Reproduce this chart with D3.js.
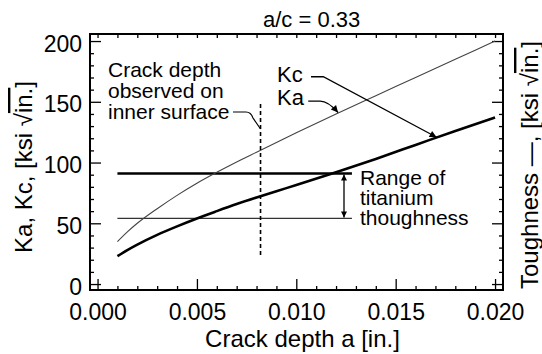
<!DOCTYPE html>
<html><head><meta charset="utf-8">
<script src="https://cdn.jsdelivr.net/npm/d3@7"></script>
<style>
html,body{margin:0;padding:0;background:#fff;}
svg text{font-family:"Liberation Sans",Arial,sans-serif;fill:#000;}
</style></head>
<body><svg id="c" width="542" height="354"></svg>
<script>
// ---- data ----
const crackDepth = [0.001,0.0015,0.002,0.003,0.004,0.005,0.006,0.007,0.008,0.009,0.010,0.012,0.014,0.016,0.018,0.020];
const kaValues   = [35,43,50,62,73,83,92,100.5,108.5,116.5,124.5,140,155,170,185,200];
const kcValues   = [23,28,32.5,40.5,47.5,54,60,65.8,71.2,76.4,81.5,92,103,114.5,126,137];
const toughnessRange = [54, 91];           // titanium toughness (low, high)
const toughnessSpan  = [0.001, 0.0128];    // crack-depth extent of the toughness lines
const observedDepth  = 0.0082;             // crack depth observed on inner surface
const observedSpan   = [24, 149];
const xTicks = [0,0.005,0.010,0.015,0.020];
const xTickLabels = ["0.000","0.005","0.010","0.015","0.020"];
const yTicks = [0,50,100,150,200];
const yTickLabels = ["0","50","100","150","200"];
const titleText = "a/c = 0.33";

// ---- layout ----
const svg = d3.select("#c");
const L=90,R=503,T=34,B=290;
const x = d3.scaleLinear().domain([-0.00038,0.0204]).range([L,R]);
const y = d3.scaleLinear().domain([-4.9,205.8]).range([B,T]);

const defs = svg.append("defs");
function marker(id, w, h){
  defs.append("marker").attr("id",id).attr("viewBox","0 0 10 10").attr("refX",10).attr("refY",5)
    .attr("markerWidth",w).attr("markerHeight",h).attr("markerUnits","userSpaceOnUse").attr("orient","auto-start-reverse")
    .append("path").attr("d","M0,0 L10,5 L0,10 Z").attr("fill","#000");
}
marker("arr",11,7);
marker("arrS",9,6);

// minor ticks
const xMinor = d3.range(0,21).map(i=>i*0.001).filter(v=>Math.round(v*1000)%5!==0);
const yMinor = d3.range(0,21).map(i=>i*10).filter(v=>v%50!==0);

function styleAxis(g){ g.select(".domain").remove(); g.selectAll("line").attr("stroke","#000").attr("stroke-width",1.3); }

// bottom
svg.append("g").attr("transform",`translate(0,${B})`).call(d3.axisBottom(x).tickValues(xMinor).tickSize(-4).tickFormat("")).call(styleAxis);
const bx = svg.append("g").attr("transform",`translate(0,${B})`)
  .call(d3.axisBottom(x).tickValues(xTicks).tickSize(-11).tickFormat((d,i)=>xTickLabels[i])).call(styleAxis);
bx.selectAll("text").attr("y",30).attr("dy",0).style("font-size","23px");
// top
svg.append("g").attr("transform",`translate(0,${T})`).call(d3.axisTop(x).tickValues(xMinor.concat(xTicks)).tickSize(-4).tickFormat("")).call(styleAxis);
// left
svg.append("g").attr("transform",`translate(${L},0)`).call(d3.axisLeft(y).tickValues(yMinor).tickSize(-4).tickFormat("")).call(styleAxis);
const ly = svg.append("g").attr("transform",`translate(${L},0)`)
  .call(d3.axisLeft(y).tickValues(yTicks).tickSize(-11).tickFormat((d,i)=>yTickLabels[i])).call(styleAxis);
ly.selectAll("text").attr("x",-8).attr("dy",0).attr("y",10).style("font-size","23px");
// right
svg.append("g").attr("transform",`translate(${R},0)`).call(d3.axisRight(y).tickValues(yMinor).tickSize(-4).tickFormat("")).call(styleAxis);
svg.append("g").attr("transform",`translate(${R},0)`).call(d3.axisRight(y).tickValues(yTicks).tickSize(-11).tickFormat("")).call(styleAxis);

// frame
svg.append("rect").attr("x",L).attr("y",T).attr("width",R-L).attr("height",B-T)
  .attr("fill","none").attr("stroke","#000").attr("stroke-width",2);

// toughness lines
svg.append("line").attr("x1",x(toughnessSpan[0])).attr("x2",x(toughnessSpan[1]))
  .attr("y1",y(toughnessRange[1])).attr("y2",y(toughnessRange[1])).attr("stroke","#000").attr("stroke-width",2.4);
svg.append("line").attr("x1",x(toughnessSpan[0])).attr("x2",x(toughnessSpan[1]))
  .attr("y1",y(toughnessRange[0])).attr("y2",y(toughnessRange[0])).attr("stroke","#333").attr("stroke-width",1.2);

// curves
const line = (vals)=>d3.line().x((d,i)=>x(crackDepth[i])).y(d=>y(d)).curve(d3.curveMonotoneX)(vals);
svg.append("path").attr("d",line(kaValues)).attr("fill","none").attr("stroke","#444").attr("stroke-width",1.1);
svg.append("path").attr("d",line(kcValues)).attr("fill","none").attr("stroke","#000").attr("stroke-width",2.6);

// observed depth dashed
svg.append("line").attr("x1",x(observedDepth)).attr("x2",x(observedDepth))
  .attr("y1",y(observedSpan[0])).attr("y2",y(observedSpan[1]))
  .attr("stroke","#000").attr("stroke-width",1.6).attr("stroke-dasharray","4,3");

// range double arrow
const ax = x(0.0124);
svg.append("line").attr("x1",ax).attr("x2",ax).attr("y1",y(toughnessRange[1])+1).attr("y2",y(toughnessRange[0])-1)
  .attr("stroke","#000").attr("stroke-width",1.3).attr("marker-start","url(#arrS)").attr("marker-end","url(#arrS)");

// annotation text helpers
function txt(xp,yp,s,size){ return svg.append("text").attr("x",xp).attr("y",yp).style("font-size",size+"px").text(s); }

// Crack depth observed note
[["Crack depth",77],["observed on",98],["inner surface",118.5]].forEach(d=>txt(108,d[1],d[0],21));
svg.append("path").attr("d",`M233,112 H246 Q251,112 253,118 L${x(observedDepth)},129`)
  .attr("fill","none").attr("stroke","#000").attr("stroke-width",1.2);

// Kc / Ka labels
txt(277,82,"Kc",22);
txt(277,105,"Ka",22);
svg.append("path").attr("d",`M${x(0.01074)},${y(170.6)} H${x(0.01136)} L${x(0.01706)},${y(120.8)}`)
  .attr("fill","none").attr("stroke","#000").attr("stroke-width",1.3).attr("marker-end","url(#arr)");
svg.append("path").attr("d",`M${x(0.0106)},${y(150.6)} H${x(0.0112)} Q${x(0.0116)},${y(150.6)} ${x(0.0121)},${y(141.2)}`)
  .attr("fill","none").attr("stroke","#000").attr("stroke-width",1.3).attr("marker-end","url(#arr)");

// Range note
[["Range of",185],["titanium",205],["thoughness",225]].forEach(d=>txt(360,d[1],d[0],21));

// title
txt(263,27,titleText,22);

// axis titles
svg.append("text").attr("x",(L+R)/2+6).attr("y",347).attr("text-anchor","middle").style("font-size","24px").text("Crack depth a [in.]");
function radLabel(xp,yp,prefix){
  const t = svg.append("text").attr("transform",`translate(${xp},${yp}) rotate(-90)`).attr("text-anchor","middle").style("font-size","24px");
  t.append("tspan").text(prefix+"[ksi ");
  t.append("tspan").text("\u221A");
  t.append("tspan").style("text-decoration","overline").text("in.");
  t.append("tspan").text("]");
}
radLabel(32,167,"Ka, Kc, ");
radLabel(538,165,"Toughness \u2014, ");
</script></body></html>
